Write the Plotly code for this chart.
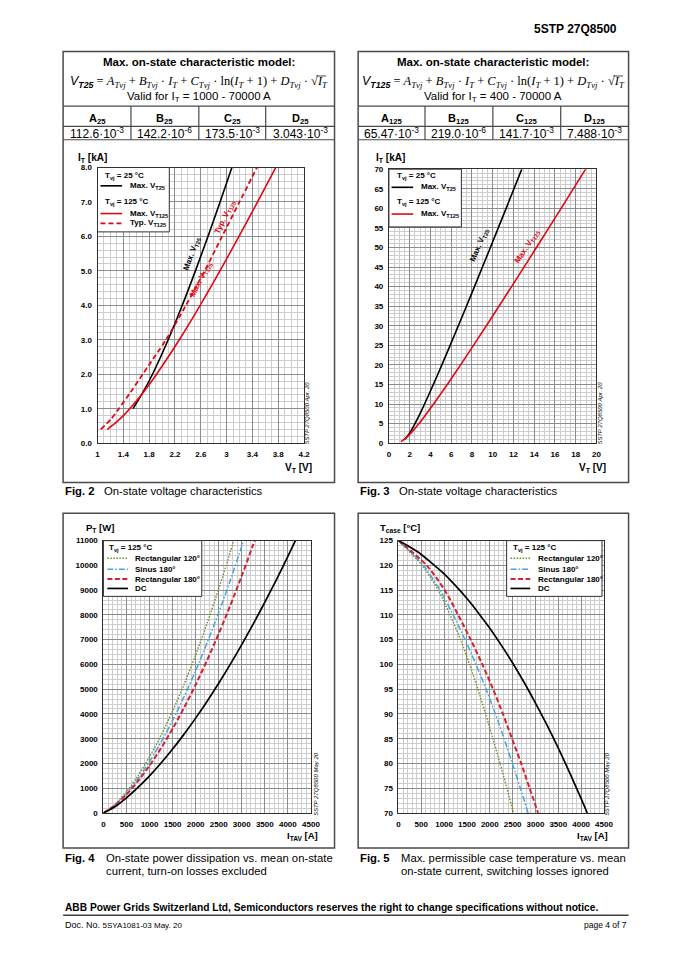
import plotly.graph_objects as go

# page is 679x960; the html body keeps its default 8px margin on every side,
# so the figure is made 663x944 to fit the window without overflow.
PAGE_W, PAGE_H = 679, 960
OFF = 8
W, H = PAGE_W - 2 * OFF, PAGE_H - 2 * OFF
FONT = "Liberation Sans"
SERIF = "Liberation Serif"
BLACK = "#000000"
RED = "#e30613"
DKRED = "#d42030"
CYAN = "#4aa3dc"
OLIVE = "#6b8c2a"
BORDER = "#4a4a4a"


def px(x):
    return (x - OFF) / W


def py(y):
    return 1 - (y - OFF) / H


# ---------------- data ----------------
# Fig. 2  (I_T in kA, V_T in V)
f2_max25_I = [1.0, 1.5, 2.0, 3.0, 4.0, 5.0, 6.0, 7.0, 8.0]
f2_max25_V = [1.550, 1.712, 1.852, 2.095, 2.313, 2.517, 2.711, 2.899, 3.082]
f2_max125_I = [0.4, 0.6, 0.8, 1.0, 1.5, 2.0, 3.0, 4.0, 5.0, 6.0, 7.0, 8.0]
f2_max125_V = [1.152, 1.287, 1.400, 1.500, 1.720, 1.915, 2.267, 2.590, 2.897, 3.192, 3.480, 3.761]
f2_typ125_I = [0.4, 0.7, 1.0, 1.5, 2.0, 3.0, 4.0, 5.0, 6.0, 7.0, 8.0]
f2_typ125_V = [1.05, 1.21, 1.33, 1.52, 1.70, 2.06, 2.37, 2.66, 2.93, 3.20, 3.47]
f2_xticks = [1, 1.4, 1.8, 2.2, 2.6, 3, 3.4, 3.8, 4.2]
f2_xtext = ["1", "1.4", "1.8", "2.2", "2.6", "3", "3.4", "3.8", "4.2"]

# Fig. 3  (I_T in kA, V_T in V)
f3_max25_I = [1, 2, 3, 4, 5, 6, 8, 10, 15, 20, 30, 40, 50, 60, 70]
f3_max25_V = [1.550, 1.852, 2.095, 2.313, 2.517, 2.711, 3.082, 3.437, 4.287, 5.105, 6.694, 8.248, 9.780, 11.299, 12.807]
f3_max125_I = [0.4, 1, 2, 3, 4, 5, 6, 8, 10, 15, 20, 30, 40, 50, 60, 70]
f3_max125_V = [1.152, 1.500, 1.915, 2.267, 2.590, 2.897, 3.192, 3.761, 4.309, 5.630, 6.908, 9.393, 11.825, 14.223, 16.599, 18.958]

# Fig. 4  (P_T in W vs I_TAV in A)
f4_dc_I = [0, 250, 500, 750, 1000, 1250, 1500, 1750, 2000, 2250, 2500, 2750, 3000, 3250, 3500, 3750, 4000, 4200]
f4_dc_P = [0, 255, 612, 1030, 1500, 2018, 2581, 3185, 3831, 4516, 5240, 6002, 6801, 7637, 8510, 9418, 10361, 11142]
f4_r180_I = [0, 250, 500, 750, 1000, 1250, 1500, 1750, 2000, 2250, 2500, 2750, 3000, 3250, 3300]
f4_r180_P = [0, 306, 750, 1290, 1915, 2620, 3401, 4255, 5181, 6177, 7242, 8376, 9577, 10845, 11106]
f4_sin_I = [0, 250, 500, 750, 1000, 1250, 1500, 1750, 2000, 2250, 2500, 2750, 3000, 3050]
f4_sin_P = [0, 323, 802, 1391, 2080, 2864, 3738, 4699, 5746, 6878, 8093, 9390, 10768, 11053]
f4_r120_I = [0, 250, 500, 750, 1000, 1250, 1500, 1750, 2000, 2250, 2500, 2750, 2850]
f4_r120_P = [0, 343, 860, 1505, 2267, 3139, 4118, 5200, 6384, 7669, 9052, 10533, 11153]

# Fig. 5  (T_case in °C vs I_TAV in A)
f5_dc_I = [0, 250, 500, 750, 1000, 1250, 1500, 1750, 2000, 2250, 2500, 2750, 3000, 3250, 3500, 3750, 4000, 4134]
f5_dc_T = [125, 123.7, 122.2, 120.3, 118.3, 115.9, 113.3, 110.4, 107.3, 103.9, 100.3, 96.4, 92.2, 87.8, 83.1, 78.1, 72.9, 70.0]
f5_T = [125, 120, 115, 110, 105, 100, 95, 90, 85, 80, 75, 70]
f5_r180_I = [0, 617, 1012, 1307, 1582, 1837, 2072, 2287, 2487, 2687, 2872, 3057]
f5_sin_I = [0, 545, 909, 1199, 1459, 1699, 1919, 2124, 2314, 2494, 2669, 2839]
f5_r120_I = [0, 517, 869, 1129, 1359, 1559, 1739, 1909, 2069, 2224, 2374, 2519]

# model tables
t25_names = ["A<sub>25</sub>", "B<sub>25</sub>", "C<sub>25</sub>", "D<sub>25</sub>"]
t25_vals = ["112.6·10<sup>-3</sup>", "142.2·10<sup>-6</sup>", "173.5·10<sup>-3</sup>", "3.043·10<sup>-3</sup>"]
t125_names = ["A<sub>125</sub>", "B<sub>125</sub>", "C<sub>125</sub>", "D<sub>125</sub>"]
t125_vals = ["65.47·10<sup>-3</sup>", "219.0·10<sup>-6</sup>", "141.7·10<sup>-3</sup>", "7.488·10<sup>-3</sup>"]

fig = go.Figure()


def add_line(x, y, ax, color, width, dash="solid", smooth=True):
    fig.add_trace(go.Scatter(
        x=x, y=y, xaxis="x" + ax, yaxis="y" + ax, mode="lines",
        line=dict(color=color, width=width, dash=dash,
                  shape="spline" if smooth else "linear", smoothing=0.8),
        hoverinfo="skip", showlegend=False))


add_line(f2_max25_V, f2_max25_I, "", BLACK, 1.6)
add_line(f2_max125_V, f2_max125_I, "", RED, 1.6)
add_line(f2_typ125_V, f2_typ125_I, "", RED, 1.8, "5px,3px")

add_line(f3_max25_V, f3_max25_I, "2", BLACK, 1.6)
add_line(f3_max125_V, f3_max125_I, "2", RED, 1.6)

add_line(f4_r120_I, f4_r120_P, "3", OLIVE, 1.4, "1.5px,1.5px")
add_line(f4_sin_I, f4_sin_P, "3", CYAN, 1.5, "6px,2px,1.5px,2px")
add_line(f4_r180_I, f4_r180_P, "3", DKRED, 2.0, "5px,2.5px")
add_line(f4_dc_I, f4_dc_P, "3", BLACK, 1.7)

add_line(f5_r120_I, f5_T, "4", OLIVE, 1.4, "1.5px,1.5px")
add_line(f5_sin_I, f5_T, "4", CYAN, 1.5, "6px,2px,1.5px,2px")
add_line(f5_r180_I, f5_T, "4", DKRED, 2.0, "5px,2.5px")
add_line(f5_dc_I, f5_dc_T, "4", BLACK, 1.7)


def axis(domain, rng, dtick, minor, anchor, **kw):
    d = dict(domain=domain, range=rng, dtick=dtick, anchor=anchor,
             showline=True, linecolor="#303030", linewidth=1, mirror=True,
             showgrid=True, gridcolor="#8c8c8c", gridwidth=0.8, zeroline=False,
             ticks="", ticklabelstandoff=3,
             tickfont=dict(family=FONT, size=8, color="black", weight="bold"),
             minor=dict(dtick=minor, showgrid=True, gridcolor="#cdcdcd", gridwidth=0.5, ticks=""),
             fixedrange=True)
    d.update(kw)
    return d


layout = dict(
    width=W, height=H, margin=dict(l=0, r=0, t=0, b=0),
    paper_bgcolor="white", plot_bgcolor="white", showlegend=False,
    font=dict(family=FONT, color="black"),
    xaxis=axis([px(97), px(307)], [1, 4.2], 0.4, 0.1, "y", tick0=1,
               tickmode="array", tickvals=f2_xticks, ticktext=f2_xtext),
    yaxis=axis([py(443.3), py(165)], [0, 8], 1, 0.2, "x", tickformat=".1f"),
    xaxis2=axis([px(393.3), px(604.3)], [0, 20], 2, 0.5, "y2"),
    yaxis2=axis([py(443.3), py(166.7)], [0, 70], 5, 1, "x2"),
    xaxis3=axis([px(103), px(314)], [0, 4500], 500, 100, "y3", tickformat="d"),
    yaxis3=axis([py(816.7), py(541.7)], [0, 11000], 1000, 200, "x3", tickformat="d"),
    xaxis4=axis([px(403), px(612)], [0, 4500], 500, 100, "y4", tickformat="d"),
    yaxis4=axis([py(816.7), py(541.7)], [70, 125], 5, 1, "x4", tickformat="d"),
)
fig.update_layout(**layout)
fig.update_layout(xaxis_minor_tick0=1)

shapes = []
anns = []


def rect(x0, y0, x1, y1, color=BORDER, width=1.5, fill=None):
    shapes.append(dict(type="rect", xref="paper", yref="paper",
                       x0=px(x0), x1=px(x1), y0=py(y0), y1=py(y1),
                       line=dict(color=color, width=width),
                       fillcolor=fill if fill else "rgba(0,0,0,0)", layer="above"))


def hline(x0, x1, y, color=BORDER, width=1.2, dash="solid"):
    shapes.append(dict(type="line", xref="paper", yref="paper",
                       x0=px(x0), x1=px(x1), y0=py(y), y1=py(y),
                       line=dict(color=color, width=width, dash=dash), layer="above"))


def vline(x, y0, y1, color=BORDER, width=1.2):
    shapes.append(dict(type="line", xref="paper", yref="paper",
                       x0=px(x), x1=px(x), y0=py(y0), y1=py(y1),
                       line=dict(color=color, width=width), layer="above"))


def text(x, y, t, size=9, bold=False, anchor="left", color="black", family=FONT, angle=0, yanchor="middle"):
    if bold:
        t = "<b>" + t + "</b>"
    anns.append(dict(x=px(x), y=py(y), xref="paper", yref="paper", text=t, showarrow=False,
                     xanchor=anchor, yanchor=yanchor, textangle=angle,
                     font=dict(family=family, size=size, color=color)))


def dtext(x, y, t, ax, size=8, color="black", angle=0):
    anns.append(dict(x=x, y=y, xref="x" + ax, yref="y" + ax, text="<b>" + t + "</b>",
                     showarrow=False, xanchor="center", yanchor="middle", textangle=angle,
                     font=dict(family=FONT, size=size, color=color)))


# header
text(627, 25, "5STP 27Q8500", 12, True, "right")

# ---- panels for Fig 2 and 3 ----
for (x0, x1, cols, label, names, vals, valid) in [
        (62, 338, [131, 200, 268], "25", t25_names, t25_vals, "Valid for I<sub>T</sub> = 1000 - 70000 A"),
        (362, 637, [430, 499, 568], "125", t125_names, t125_vals, "Valid for I<sub>T</sub> = 400 - 70000 A")]:
    rect(x0, 48, x1, 483)
    hline(x0, x1, 103)
    hline(x0, x1, 123.5)
    hline(x0, x1, 137)
    for c in cols:
        vline(c, 103, 137)
    cx = (x0 + x1) / 2
    text(cx, 58, "Max. on-state characteristic model:", 11.5, True, "center")
    formula = ("<span style='font-family:Liberation Sans'><i>V</i><sub><b><i>T" + label + "</i></b></sub></span>"
               " = <i>A</i><sub><i>Tvj</i></sub> + <i>B</i><sub><i>Tvj</i></sub> · <i>I</i><sub><i>T</i></sub>"
               " + <i>C</i><sub><i>Tvj</i></sub> · ln(<i>I</i><sub><i>T</i></sub> + 1)"
               " + <i>D</i><sub><i>Tvj</i></sub> · √<i>I</i><sub><i>T</i></sub>")
    text(cx, 78.5, formula, 12.5, False, "center", family=SERIF)
    text(cx, 93.5, valid, 11.5, False, "center")
    edges = [x0] + cols + [x1]
    for i in range(4):
        ccx = (edges[i] + edges[i + 1]) / 2
        text(ccx, 116, names[i], 11, True, "center")
        text(ccx, 130.5, vals[i], 12, False, "center")

# radical bars over the last I_T of each formula
hline(319.5, 329.5, 72.6, BLACK, 0.7)
hline(621.5, 631.5, 72.6, BLACK, 0.7)

# ---- panels for Fig 4 and 5 ----
rect(62, 514, 338, 852)
rect(362, 514, 637, 852)

# axis titles
text(75, 155, "I<sub>T</sub> [kA]", 10, True)
text(317, 468, "V<sub>T</sub> [V]", 10, True, "right")
text(378, 155, "I<sub>T</sub> [kA]", 10, True)
text(616, 468, "V<sub>T</sub> [V]", 10, True, "right")
text(83, 529, "P<sub>T</sub> [W]", 9.5, True)
text(323, 840, "I<sub>TAV</sub> [A]", 9.5, True, "right")
text(382, 529, "T<sub>case</sub> [°C]", 9.5, True)
text(618, 840, "I<sub>TAV</sub> [A]", 9.5, True, "right")

# watermarks
text(310, 413, "<i>5STP 27Q8500 Apr. 20</i>", 6, False, "center", angle=-90)
text(608, 413, "<i>5STP 27Q8500 Apr. 20</i>", 6, False, "center", angle=-90)
text(319, 787, "<i>5STP 27Q8500 May 20</i>", 6, False, "center", angle=-90)
text(615, 787, "<i>5STP 27Q8500 May 20</i>", 6, False, "center", angle=-90)

# curve labels
dtext(2.46, 5.5, "Max. V<sub>T25</sub>", "", 8, BLACK, -70)
dtext(2.98, 6.56, "Typ. V<sub>T125</sub>", "", 8, RED, -64)
dtext(2.60, 4.74, "Max. V<sub>T125</sub>", "", 8, RED, -62)
dtext(8.75, 50.6, "Max. V<sub>T25</sub>", "2", 8, BLACK, -67)
dtext(13.3, 50.2, "Max. V<sub>T125</sub>", "2", 8, RED, -57)

# legends
rect(97, 165, 170, 230, "#303030", 1, "white")
text(103, 173.5, "T<sub>vj</sub> = 25 °C", 8, True)
hline(100, 122, 183.5, BLACK, 1.6)
text(128, 183.5, "Max. V<sub>T25</sub>", 8, True)
text(103, 200, "T<sub>vj</sub> = 125 °C", 8, True)
hline(100, 122, 211.5, RED, 1.6)
text(128, 211.5, "Max. V<sub>T125</sub>", 8, True)
hline(100, 122, 221.5, RED, 1.8, "5px,3px")
text(128, 221.5, "Typ. V<sub>T125</sub>", 8, True)

rect(393.3, 166.7, 467, 225, "#303030", 1, "white")
text(399, 174, "T<sub>vj</sub> = 25 °C", 8, True)
hline(396, 418, 185, BLACK, 1.6)
text(424, 185, "Max. V<sub>T25</sub>", 8, True)
text(399, 200, "T<sub>vj</sub> = 125 °C", 8, True)
hline(396, 418, 212, RED, 1.6)
text(424, 212, "Max. V<sub>T125</sub>", 8, True)

for (bx0, bx1, sx0, sx1, tx) in [(103, 203, 107, 128, 133), (513, 610, 517, 537, 543)]:
    rect(bx0, 541.7, bx1, 598, "#303030", 1, "white")
    text(sx0, 549.5, "T<sub>vj</sub> = 125 °C", 8, True)
    hline(sx0, sx1, 559.5, OLIVE, 1.4, "1.5px,1.5px")
    text(tx, 559.5, "Rectangular 120°", 8, True)
    hline(sx0, sx1, 570.5, CYAN, 1.5, "6px,2px,1.5px,2px")
    text(tx, 570.5, "Sinus 180°", 8, True)
    hline(sx0, sx1, 580.5, DKRED, 2.0, "5px,2.5px")
    text(tx, 580.5, "Rectangular 180°", 8, True)
    hline(sx0, sx1, 590, BLACK, 1.7)
    text(tx, 590, "DC", 8, True)

# captions
CAP = 11.3
text(62, 492, "Fig. 2", CAP, True)
text(102, 492, "On-state voltage characteristics", CAP)
text(362, 492, "Fig. 3", CAP, True)
text(402, 492, "On-state voltage characteristics", CAP)
text(62, 862, "Fig. 4", CAP, True)
text(104, 862, "On-state power dissipation vs. mean on-state", CAP)
text(104, 875, "current, turn-on losses excluded", CAP)
text(362, 862, "Fig. 5", CAP, True)
text(404, 862, "Max. permissible case temperature vs. mean", CAP)
text(404, 875, "on-state current, switching losses ignored", CAP)

# footer
text(62, 912, "ABB Power Grids Switzerland Ltd, Semiconductors reserves the right to change specifications without notice.", 10.2, True)
hline(62, 637, 920, "#404040", 1.5)
text(62, 930, "Doc. No. <span style='font-size:8px'>5SYA1081-03 May. 20</span>", 9)
text(637, 930, "page 4 of 7", 8.5, False, "right")

fig.update_layout(shapes=shapes, annotations=anns)
fig.write_html("out.html")
